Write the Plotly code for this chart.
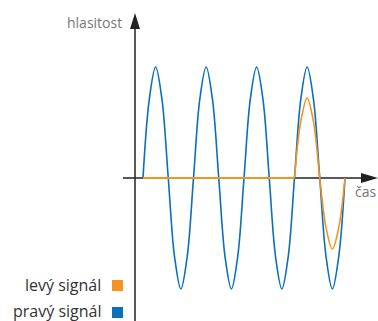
import plotly.graph_objects as go

# key points of the waves (time in eighth periods, amplitude relative)
t_right = list(range(0, 33))
right_vals = [0, 0.71, 1, 0.71, 0, -0.71, -1, -0.71,
              0, 0.71, 1, 0.71, 0, -0.71, -1, -0.71,
              0, 0.71, 1, 0.71, 0, -0.71, -1, -0.71,
              0, 0.71, 1, 0.71, 0, -0.71, -1, -0.71, 0]
t_left_flat = [0, 24]
left_flat_vals = [0, 0]
t_left_wave = list(range(24, 33))
left_wave_vals = [0, 0.51, 0.72, 0.51, 0, -0.45, -0.64, -0.45, 0]

series_names = ["levý signál", "pravý signál"]
colors = ["#f39322", "#0a6fbd"]
axis_labels = ["hlasitost", "čas"]

W, H = 378, 321
X0, PX = 143, 12.625 / 2   # pixel of t=0, px per unit
Y0, PY = 178, 111          # pixel of zero amplitude, px per unit

def px(x):
    return x / W

def py(y):
    return 1 - y / H

fig = go.Figure()
fig.add_trace(go.Scatter(x=t_right, y=right_vals, mode="lines",
                         line=dict(color=colors[1], width=1.6, shape="spline", smoothing=1.0),
                         hoverinfo="skip", showlegend=False))
fig.add_trace(go.Scatter(x=t_left_flat, y=left_flat_vals, mode="lines",
                         line=dict(color=colors[0], width=1.8),
                         hoverinfo="skip", showlegend=False))
fig.add_trace(go.Scatter(x=t_left_wave, y=left_wave_vals, mode="lines",
                         line=dict(color=colors[0], width=1.6, shape="spline", smoothing=1.0),
                         hoverinfo="skip", showlegend=False))

shapes = []
# y axis line + arrow
shapes.append(dict(type="line", xref="paper", yref="paper", x0=px(135), x1=px(135),
                   y0=py(322), y1=py(24), line=dict(color="#222", width=1.5), layer="below"))
shapes.append(dict(type="path", xref="paper", yref="paper",
                   path=f"M {px(135)} {py(13)} L {px(130)} {py(29)} L {px(140)} {py(29)} Z",
                   fillcolor="#222", line=dict(width=0)))
# x axis line + arrow
shapes.append(dict(type="line", xref="paper", yref="paper", x0=px(123), x1=px(366),
                   y0=py(178), y1=py(178), line=dict(color="#222", width=1.5), layer="below"))
shapes.append(dict(type="path", xref="paper", yref="paper",
                   path=f"M {px(378)} {py(178)} L {px(361)} {py(173)} L {px(361)} {py(183)} Z",
                   fillcolor="#222", line=dict(width=0)))
# legend squares
for i, (yt, yb) in enumerate([(280, 291), (307, 318)]):
    shapes.append(dict(type="rect", xref="paper", yref="paper", x0=px(112), x1=px(123),
                       y0=py(yb), y1=py(yt), fillcolor=colors[i], line=dict(width=0)))

annotations = [
    dict(text=axis_labels[0], xref="paper", yref="paper", x=px(124), y=py(22),
         xanchor="right", yanchor="middle", showarrow=False,
         font=dict(family="Open Sans", size=14, color="#777")),
    dict(text=axis_labels[1], xref="paper", yref="paper", x=px(378), y=py(192),
         xanchor="right", yanchor="middle", showarrow=False,
         font=dict(family="Open Sans", size=14, color="#777")),
    dict(text=series_names[0], xref="paper", yref="paper", x=px(103), y=py(284.5),
         xanchor="right", yanchor="middle", showarrow=False,
         font=dict(family="Open Sans", size=16, color="#333")),
    dict(text=series_names[1], xref="paper", yref="paper", x=px(103), y=py(310.5),
         xanchor="right", yanchor="middle", showarrow=False,
         font=dict(family="Open Sans", size=16, color="#333")),
]

fig.update_layout(
    width=W, height=H, margin=dict(l=0, r=0, t=0, b=0),
    paper_bgcolor="white", plot_bgcolor="white",
    xaxis=dict(range=[-X0 / PX, (W - X0) / PX], visible=False, fixedrange=True),
    yaxis=dict(range=[-(H - Y0) / PY, Y0 / PY], visible=False, fixedrange=True),
    shapes=shapes, annotations=annotations, showlegend=False,
)

fig.write_html("out.html", config={"displayModeBar": False},
               post_script="document.body.style.margin='0';document.body.style.overflow='hidden';")
